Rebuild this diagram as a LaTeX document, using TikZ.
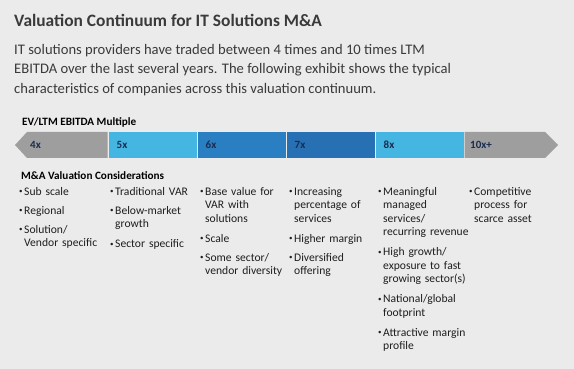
\documentclass[tikz,border=0pt]{standalone}
\usepackage{fontspec}
\setmainfont{Carlito}
\usepackage{graphicx}
\usetikzlibrary{positioning}

\definecolor{bggray}{HTML}{EBEBEB}
\definecolor{bargray}{HTML}{9E9E9E}
\definecolor{lightblue}{HTML}{45B5E2}
\definecolor{midblue}{HTML}{2A7EC2}
\definecolor{darkblue}{HTML}{2670B3}
\definecolor{headgray}{HTML}{3A3A3A}
\definecolor{txtgray}{HTML}{1E1E1E}
\definecolor{navy}{HTML}{1B2C4E}

\newcommand{\bul}{\makebox[5pt][l]{\raisebox{0.25ex}{\scalebox{0.6}{\textbullet}}}}
\newcommand{\itm}[1]{\par\setlength{\parskip}{5.5pt}\noindent\bul\begin{tabular}[t]{@{}l@{}}#1\end{tabular}}

\tikzset{
	seg/.style={anchor=north west, minimum height=26pt, text width=72pt, inner xsep=8pt, inner ysep=0pt,
		align=left, font=\fontsize{11}{12}\selectfont\bfseries, text=navy},
	lbl/.style={anchor=west, font=\fontsize{11}{12}\selectfont\bfseries, text=navy, inner sep=0pt},
	col/.style={anchor=north west, inner sep=0pt, text width=100pt, align=left,
		font=\fontsize{11.6}{13.5}\selectfont, text=txtgray},
	subhead/.style={anchor=base west, inner sep=0pt, font=\fontsize{11.2}{13}\selectfont\bfseries, text=black}
}

\begin{document}
\begin{tikzpicture}[x=1pt,y=-1pt]
	\fill[bggray] (0,0) rectangle (574,369);
	\useasboundingbox (0,0) rectangle (574,369);
	\node[anchor=base west, inner sep=0pt, font=\fontsize{17.4}{20}\selectfont\bfseries, text=headgray] (title) at (14,27) {Valuation Continuum for IT Solutions M\&A};
	\node[anchor=north west, inner sep=0pt, align=left, font=\fontsize{14.6}{19.5}\selectfont, text=headgray] (intro) at (14,44)
		{IT solutions providers have traded between 4 times and 10 times LTM\\
		EBITDA over the last several years. The following exhibit shows the typical\\
		characteristics of companies across this valuation continuum.};
	\node[subhead] (axis) at (22,126) {EV/LTM EBITDA Multiple};
	% bar with arrow ends
	\fill[bargray] (15,145) -- (27,132) -- (107.5,132) -- (107.5,158) -- (27,158) -- cycle;
	\node[lbl] (m4) at (30,145) {4x};
	\foreach \l/\x/\c [count=\i] in {5x/108.5/lightblue, 6x/197.5/midblue, 7x/286.5/darkblue, 8x/375.5/lightblue}
	{ \node[seg, fill=\c] (s\i) at (\x,132) {\l};
	}
	\fill[bargray] (464.5,132) -- (545,132) -- (558,145) -- (545,158) -- (464.5,158) -- cycle;
	\node[lbl] (m10) at (470,145) {10x+};
	% considerations
	\node[subhead] (cons) at (21,179) {M\&A Valuation Considerations};
	\node[col] (c1) at (19,176) {\itm{Sub scale}\itm{Regional}\itm{Solution/\\Vendor specific}};
	\node[col] (c2) at (110,176) {\itm{Traditional VAR}\itm{Below-market\\growth}\itm{Sector specific}};
	\node[col] (c3) at (200,176) {\itm{Base value for\\VAR with\\solutions}\itm{Scale}\itm{Some sector/\\vendor diversity}};
	\node[col] (c4) at (289,176) {\itm{Increasing\\percentage of\\services}\itm{Higher margin}\itm{Diversified\\offering}};
	\node[col] (c5) at (378,176) {\itm{Meaningful\\managed\\services/\\recurring revenue}\itm{High growth/\\exposure to fast\\growing sector(s)}\itm{National/global\\footprint}\itm{Attractive margin\\profile}};
	\node[col] (c6) at (469,176) {\itm{Competitive\\process for\\scarce asset}};
\end{tikzpicture}
\end{document}
